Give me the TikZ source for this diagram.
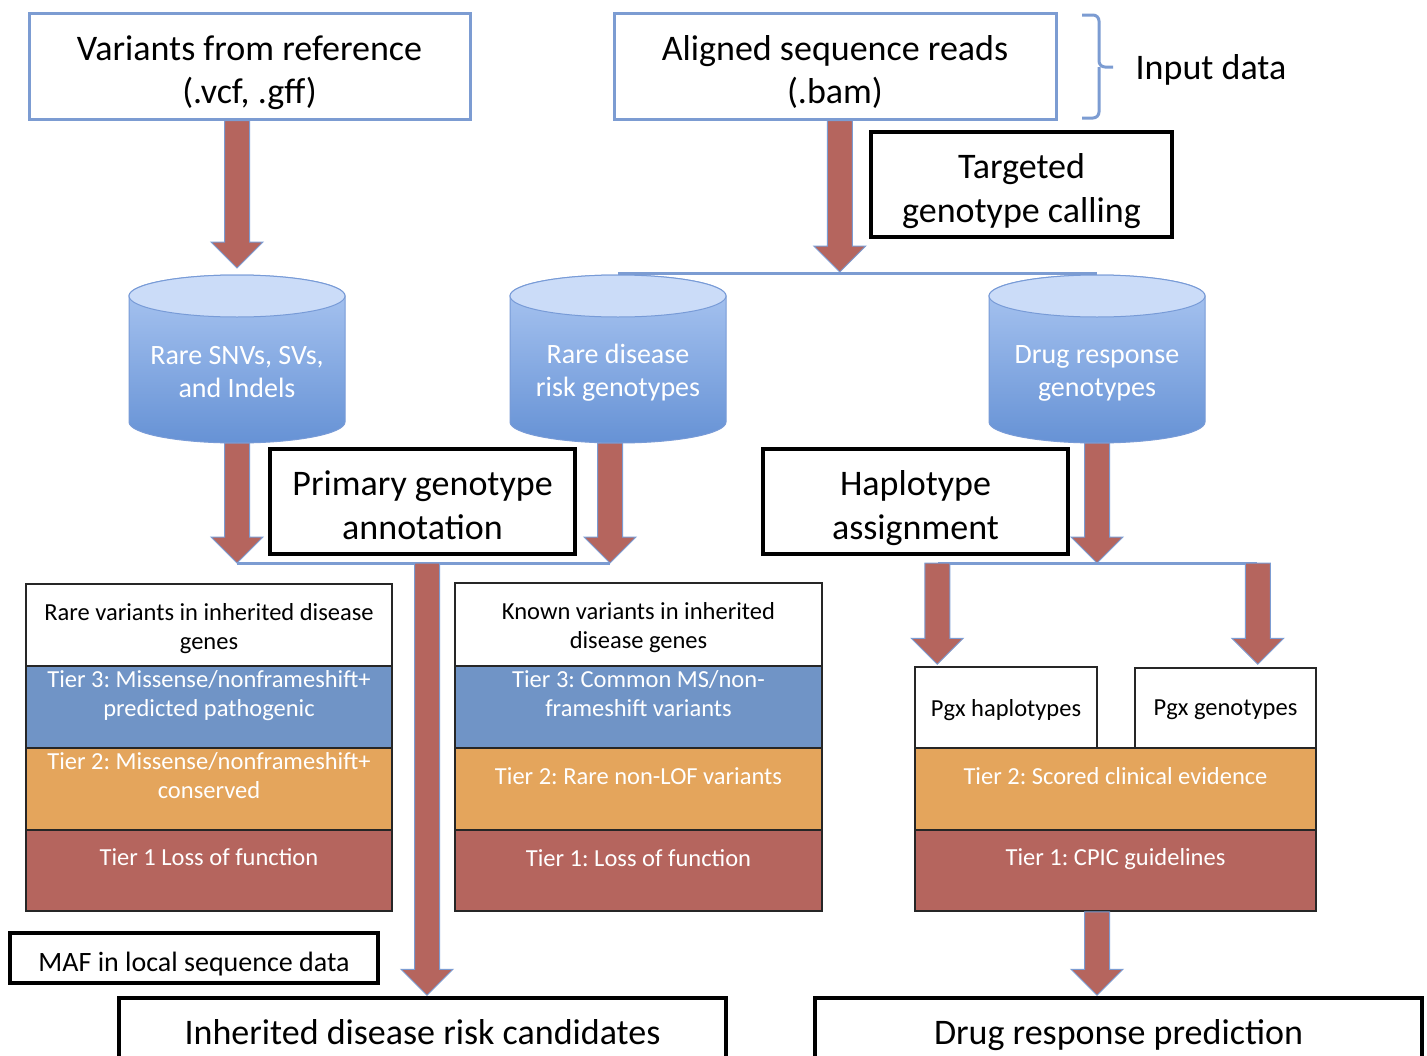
\documentclass[tikz,border=0pt]{standalone}
\usepackage{fontspec}
\setmainfont{Carlito}
\usetikzlibrary{calc}
\frenchspacing
\definecolor{inblue}{RGB}{124,156,210}
\definecolor{arrowred}{RGB}{181,101,94}
\definecolor{tblue}{RGB}{112,148,198}
\definecolor{torange}{RGB}{228,165,92}
\definecolor{tred}{RGB}{181,101,94}
\definecolor{cylA}{RGB}{172,199,242}
\definecolor{cylB}{RGB}{102,146,213}
\definecolor{cylTopC}{RGB}{203,220,248}
\definecolor{cylLine}{RGB}{120,155,215}

\newcommand{\tupbig}{\rule{0pt}{32pt}}
\newcommand{\tupmid}{\rule{0pt}{26.5pt}}

\newcommand{\myarrow}[2]{%
  \draw[barrow] let \p1=(#1), \p2=(#2) in
    (\x2-12.5pt,\y1) -- (\x2+12.5pt,\y1) -- (\x2+12.5pt,\y2+26pt) -- (\x2+26pt,\y2+26pt)
    -- (\x2,\y2) -- (\x2-26pt,\y2+26pt) -- (\x2-12.5pt,\y2+26pt) -- cycle;}

\newcommand{\mycyl}[1]{%
  \path[top color=cylA, bottom color=cylB, draw=cylLine, line width=1pt]
    let \p1=(#1.north west), \p2=(#1.south east) in
    (\x1,\y1-21pt) -- (\x1,\y2+21pt)
    arc[start angle=180, end angle=360, x radius=108pt, y radius=21pt]
    -- (\x2,\y1-21pt)
    arc[start angle=0, end angle=180, x radius=108pt, y radius=21pt] -- cycle;
  \path[fill=cylTopC, draw=cylLine, line width=1pt]
    let \p1=(#1.north) in (\x1,\y1-21pt) ellipse[x radius=108pt, y radius=21pt];}

\begin{document}
\begin{tikzpicture}[x=1pt,y=-1pt,
  inbox/.style={draw=inblue, line width=3pt, fill=white, align=center,
    font=\fontsize{36}{43}\selectfont, inner sep=0pt, text depth=0pt},
  blkbox/.style={draw=black, line width=3.5pt, fill=white, align=center,
    font=\fontsize{36}{44}\selectfont, inner sep=0pt, text depth=0pt},
  tier/.style={draw=black!85, line width=1.5pt, inner sep=0pt, text depth=0pt},
  ttext/.style={text=white, align=center, font=\fontsize{24.5}{29}\selectfont, inner sep=0pt, text depth=0pt},
  htext/.style={text=black, align=center, font=\fontsize{24.5}{29}\selectfont, inner sep=0pt, text depth=0pt},
  cylbox/.style={minimum width=216, minimum height=168, inner sep=0pt, outer sep=0pt},
  cyltext/.style={text=white, align=center, font=\fontsize{28}{33}\selectfont, inner sep=0pt},
  barrow/.style={fill=arrowred, draw=inblue, line width=1pt, line join=miter},
  link/.style={draw=inblue, line width=3pt},
]
\path[use as bounding box, clip] (0,0) rectangle (1427,1055);
\fill[white] (0,0) rectangle (1427,1055);

% input boxes
\node[inbox, minimum width=441, minimum height=106] (vcf) at (249.5,66) {\tupbig Variants from reference\\(.vcf, .gff)};
\node[inbox, minimum width=442, minimum height=106] (bam) at (835,66) {\tupbig Aligned sequence reads\\(.bam)};
\node[font=\fontsize{36}{43}\selectfont, inner sep=0pt, text depth=0pt] (inp) at (1211,67) {Input data};
\coordinate (br1) at (1082,15);
\coordinate (br2) at (1082,118);
\coordinate (brt) at (1113,67);
\draw[inblue, line width=3pt, rounded corners=6pt] (br1) -- (1099,15) -- (1099,67) -- (brt);
\draw[inblue, line width=3pt, rounded corners=6pt] (br2) -- (1099,118) -- (1099,67);

\node[blkbox, minimum width=301, minimum height=105] (tgc) at (1021.5,184.5) {\tupbig Targeted\\genotype calling};

% cylinders (placeholders)
\node[cylbox] (c1) at (237,359) {};
\node[cylbox] (c2) at (618,359) {};
\node[cylbox] (c3) at (1097,359) {};

\coordinate (s1) at ($(c2.north)+(0,-2)$);
\coordinate (s2) at ($(c3.north)+(0,-2)$);
\draw[link] (s1) -- (s2);

\mycyl{c1}
\mycyl{c2}
\mycyl{c3}
\node[cyltext] (c1t) at ($(c1.center)+(0,13)$) {Rare SNVs, SVs,\\and Indels};
\node[cyltext] (c2t) at ($(c2.center)+(0,14)$) {Rare disease\\risk genotypes};
\node[cyltext] (c3t) at ($(c3.center)+(0,14)$) {Drug response\\genotypes};

% annotation boxes
\node[blkbox, minimum width=305, minimum height=105] (pga) at (422.5,501.5) {\tupbig Primary genotype\\annotation};
\node[blkbox, minimum width=305, minimum height=105] (hap) at (915.5,501.5) {\tupbig Haplotype\\assignment};

% left stack
\node[tier, fill=white, minimum width=366, minimum height=82] (lw) at (209,625) {};
\node[htext] (lwt) at ($(lw.center)+(0,1)$) {Rare variants in inherited disease\\genes};
\node[tier, fill=tblue, minimum width=366, minimum height=82] (l3) at (209,707) {};
\node[ttext] (l3t) at ($(l3.north)+(0,28.5)$) {Tier 3: Missense/nonframeshift+\\predicted pathogenic};
\node[tier, fill=torange, minimum width=366, minimum height=82] (l2) at (209,789) {};
\node[ttext] (l2t) at ($(l2.north)+(0,28.5)$) {Tier 2: Missense/nonframeshift+\\conserved};
\node[tier, fill=tred, minimum width=366, minimum height=81] (l1) at (209,870.5) {};
\node[ttext] (l1t) at ($(l1.north)+(0,28)$) {Tier 1 Loss of function};

% middle stack
\node[tier, fill=white, minimum width=367, minimum height=83] (mw) at (638.5,624.5) {};
\node[htext] (mwt) at ($(mw.center)+(0,1)$) {Known variants in inherited\\disease genes};
\node[tier, fill=tblue, minimum width=367, minimum height=82] (m3) at (638.5,707) {};
\node[ttext] (m3t) at ($(m3.north)+(0,28.5)$) {Tier 3: Common MS/non-\\frameshift variants};
\node[tier, fill=torange, minimum width=367, minimum height=82] (m2) at (638.5,789) {};
\node[ttext] (m2t) at ($(m2.north)+(0,29)$) {Tier 2: Rare non-LOF variants};
\node[tier, fill=tred, minimum width=367, minimum height=81] (m1) at (638.5,870.5) {};
\node[ttext] (m1t) at ($(m1.north)+(0,29)$) {Tier 1: Loss of function};

% right stack
\node[tier, fill=white, minimum width=182, minimum height=81, font=\fontsize{24.5}{29}\selectfont] (pgxh) at (1006,707.5) {Pgx haplotypes};
\node[tier, fill=white, minimum width=181, minimum height=80, font=\fontsize{24.5}{29}\selectfont] (pgxg) at (1225.5,708) {Pgx genotypes};
\node[tier, fill=torange, minimum width=401, minimum height=82] (r2) at (1115.5,789) {};
\node[ttext] (r2t) at ($(r2.north)+(0,29)$) {Tier 2: Scored clinical evidence};
\node[tier, fill=tred, minimum width=401, minimum height=81] (r1) at (1115.5,870.5) {};
\node[ttext] (r1t) at ($(r1.north)+(0,28)$) {Tier 1: CPIC guidelines};

% bottom boxes
\node[blkbox, font=\fontsize{28}{33}\selectfont, minimum width=368, minimum height=50] (maf) at (194,958) {\tupmid MAF in local sequence data};
\node[blkbox, minimum width=607, minimum height=68] (ihr) at (422.5,1032) {Inherited disease risk candidates};
\node[blkbox, minimum width=607, minimum height=68] (drug) at (1118.5,1032) {Drug response prediction};

% junction coordinates
\coordinate (t1) at ($(c1.north)+(0,-7)$);
\coordinate (t2) at ($(s1)!0.463!(s2)+(0,-1)$);
\coordinate (j1) at ($(c1.south)+(0,120)$);
\coordinate (j2) at ($(c2.south)+(-8,120)$);
\coordinate (j6) at ($(c3.south)+(0,120)$);
\coordinate (j3) at ($(j1)!0.511!(j2)$);
\coordinate (j4) at ($(j6)+(-159,0)$);
\coordinate (j5) at ($(j6)+(160,0)$);
\coordinate (t6) at ($(ihr.north)+(4.5,-1)$);
\coordinate (t7) at ($(pgxh.north west)+(23,-2)$);
\coordinate (t8) at ($(pgxg.north east)+(-59,-3)$);
\coordinate (t9) at ($(drug.north)+(-21.5,-1)$);

\draw[link] (j1) -- (j2);
\draw[link] (j4) -- (j5);

% block arrows
\myarrow{vcf.south}{t1}
\myarrow{bam.south}{t2}
\myarrow{c1.south}{j1}
\myarrow{c2.south}{j2}
\myarrow{c3.south}{j6}
\myarrow{j3}{t6}
\myarrow{j4}{t7}
\myarrow{j5}{t8}
\myarrow{r1.south}{t9}
\end{tikzpicture}
\end{document}
